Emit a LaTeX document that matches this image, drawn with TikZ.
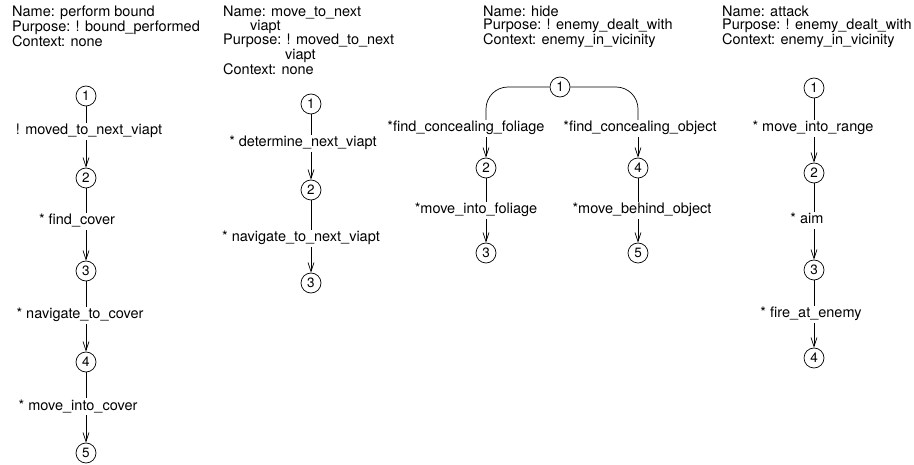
\documentclass[tikz,border=0pt]{standalone}
\usepackage{fontspec}
\setmainfont{TeX Gyre Heros}
\usetikzlibrary{arrows.meta}
\begin{document}
\begin{tikzpicture}[x=1pt,y=-1pt,
  every node/.style={font=\fontsize{14.5}{13.7}\selectfont},
  hdr/.style={anchor=north west,align=left,inner sep=0pt},
  st/.style={draw,circle,inner sep=0pt,minimum size=20pt,line width=0.7pt,font=\fontsize{13.5}{14}\selectfont},
  lbl/.style={anchor=base,inner xsep=0pt,inner ysep=1pt,text height=11pt,text depth=4pt},
  ln/.style={line width=0.7pt},
  arr/.style={line width=0.7pt,-{Straight Barb[length=9pt,width=6pt]}},
  brn/.style={line width=0.7pt,rounded corners=22pt}]
\path[use as bounding box,fill=white] (0,0) rectangle (914,465);

% ---------- column 1: perform bound ----------
\node[hdr] (h1) at (12,5.5) {Name: perform bound\\Purpose: ! bound\_performed\\Context: none};
\node[st] (c11) at (86,96) {1};
\node[st] (c12) at (86,178) {2};
\node[st] (c13) at (86,271) {3};
\node[st] (c14) at (86,362) {4};
\node[st] (c15) at (86,453) {5};
\node[lbl] (l11) at (89,135) {! moved\_to\_next\_viapt};
\node[lbl] (l12) at (77,225) {* find\_cover};
\node[lbl] (l13) at (80,319) {* navigate\_to\_cover};
\node[lbl] (l14) at (78,410) {* move\_into\_cover};
\draw[ln] (c11) -- (c11 |- l11.north);
\draw[arr] (c11 |- l11.south) -- (c12);
\draw[ln] (c12) -- (c12 |- l12.north);
\draw[arr] (c12 |- l12.south) -- (c13);
\draw[ln] (c13) -- (c13 |- l13.north);
\draw[arr] (c13 |- l13.south) -- (c14);
\draw[ln] (c14) -- (c14 |- l14.north);
\draw[arr] (c14 |- l14.south) -- (c15);

% ---------- column 2: move_to_next viapt ----------
\node[hdr,font=\fontsize{14.5}{12.7}\selectfont] (h2) at (223,5.5) {Name: move\_to\_next\\\hspace*{27pt}viapt\\Purpose: ! moved\_to\_next\\\hspace*{62pt}viapt\\Context: none};
\node[st] (c21) at (311,104) {1};
\node[st] (c22) at (311,190) {2};
\node[st] (c23) at (311,283) {3};
\node[lbl] (l21) at (303,147) {* determine\_next\_viapt};
\node[lbl] (l22) at (301,242) {* navigate\_to\_next\_viapt};
\draw[ln] (c21) -- (c21 |- l21.north);
\draw[arr] (c21 |- l21.south) -- (c22);
\draw[ln] (c22) -- (c22 |- l22.north);
\draw[arr] (c22 |- l22.south) -- (c23);

% ---------- column 3: hide ----------
\node[hdr] (h3) at (483,5.5) {Name: hide\\Purpose: ! enemy\_dealt\_with\\Context: enemy\_in\_vicinity};
\node[st] (c31) at (560,87) {1};
\node[st] (c32) at (486,168) {2};
\node[st] (c33) at (486,253) {3};
\node[st] (c34) at (638,168) {4};
\node[st] (c35) at (638,253) {5};
\node[lbl] (l31) at (466,132) {*find\_concealing\_foliage};
\node[lbl] (l32) at (640,132) {*find\_concealing\_object};
\node[lbl] (l33) at (476,214) {*move\_into\_foliage};
\node[lbl] (l34) at (642,214) {*move\_behind\_object};
\draw[brn] (c31.west) -| (c32 |- l31.north);
\draw[brn] (c31.east) -| (c34 |- l32.north);
\draw[arr] (c32 |- l31.south) -- (c32);
\draw[arr] (c34 |- l32.south) -- (c34);
\draw[ln] (c32) -- (c32 |- l33.north);
\draw[arr] (c32 |- l33.south) -- (c33);
\draw[ln] (c34) -- (c34 |- l34.north);
\draw[arr] (c34 |- l34.south) -- (c35);

% ---------- column 4: attack ----------
\node[hdr] (h4) at (722,5.5) {Name: attack\\Purpose: ! enemy\_dealt\_with\\Context: enemy\_in\_vicinity};
\node[st] (c41) at (814,88) {1};
\node[st] (c42) at (814,173) {2};
\node[st] (c43) at (814,270) {3};
\node[st] (c44) at (814,358) {4};
\node[lbl] (l41) at (813,132) {* move\_into\_range};
\node[lbl] (l42) at (807,224) {* aim};
\node[lbl] (l43) at (811,318) {* fire\_at\_enemy};
\draw[ln] (c41) -- (c41 |- l41.north);
\draw[arr] (c41 |- l41.south) -- (c42);
\draw[ln] (c42) -- (c42 |- l42.north);
\draw[arr] (c42 |- l42.south) -- (c43);
\draw[ln] (c43) -- (c43 |- l43.north);
\draw[arr] (c43 |- l43.south) -- (c44);
\end{tikzpicture}
\end{document}
